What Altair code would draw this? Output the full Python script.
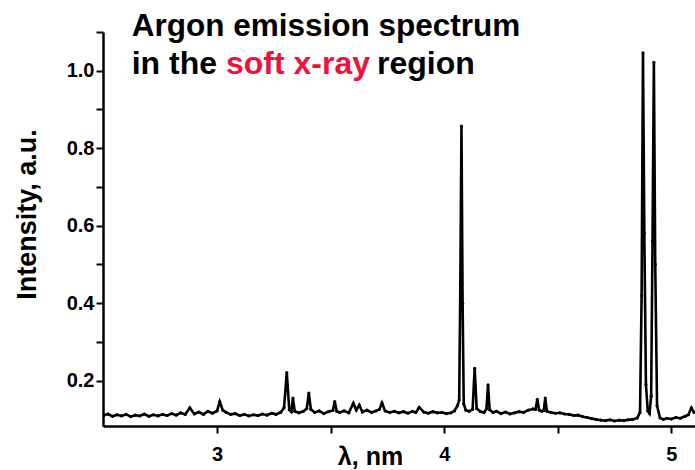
import altair as alt
import pandas as pd

# ---- data ----
wavelength_nm = [
    2.50, 2.52, 2.54, 2.56, 2.58, 2.60, 2.62, 2.64, 2.66, 2.68,
    2.70, 2.72, 2.74, 2.76, 2.78, 2.80, 2.82, 2.84, 2.86, 2.88,
    2.90, 2.92, 2.94, 2.96, 2.98, 3.00, 3.012, 3.025, 3.04, 3.06,
    3.08, 3.10, 3.12, 3.14, 3.16, 3.18, 3.20, 3.22, 3.24, 3.26,
    3.28, 3.295, 3.307, 3.318, 3.327, 3.334, 3.342, 3.36, 3.38, 3.395,
    3.404, 3.413, 3.43, 3.45, 3.47, 3.49, 3.51, 3.518, 3.527, 3.54,
    3.56, 3.58, 3.60, 3.613, 3.626, 3.64, 3.66, 3.68, 3.70, 3.715,
    3.726, 3.74, 3.76, 3.78, 3.80, 3.82, 3.84, 3.86, 3.875, 3.89,
    3.91, 3.93, 3.95, 3.97, 3.99, 4.01, 4.03, 4.045, 4.058, 4.066,
    4.071, 4.076, 4.081, 4.086, 4.095, 4.11, 4.125, 4.134, 4.143, 4.16,
    4.175, 4.186, 4.193, 4.200, 4.215, 4.23, 4.25, 4.27, 4.29, 4.31,
    4.33, 4.35, 4.37, 4.39, 4.402, 4.410, 4.418, 4.43, 4.438, 4.445,
    4.452, 4.47, 4.49, 4.51, 4.53, 4.55, 4.57, 4.59, 4.61, 4.63,
    4.65, 4.67, 4.69, 4.71, 4.73, 4.75, 4.77, 4.79, 4.81, 4.83,
    4.85, 4.862, 4.869, 4.875, 4.881, 4.888, 4.896, 4.904, 4.911, 4.917,
    4.923, 4.929, 4.937, 4.95, 4.965, 4.98, 5.00, 5.02, 5.04, 5.06,
    5.075, 5.088, 5.10,
]

intensity_au = [
    0.110, 0.114, 0.108, 0.112, 0.109, 0.113, 0.107, 0.111, 0.109, 0.114,
    0.108, 0.112, 0.109, 0.113, 0.110, 0.115, 0.111, 0.117, 0.113, 0.130,
    0.114, 0.119, 0.113, 0.121, 0.116, 0.122, 0.146, 0.124, 0.118, 0.113,
    0.115, 0.110, 0.113, 0.109, 0.112, 0.110, 0.114, 0.111, 0.116, 0.113,
    0.118, 0.130, 0.221, 0.125, 0.120, 0.155, 0.121, 0.117, 0.121, 0.128,
    0.168, 0.126, 0.118, 0.122, 0.115, 0.120, 0.123, 0.146, 0.121, 0.118,
    0.122, 0.117, 0.142, 0.124, 0.137, 0.119, 0.124, 0.118, 0.122, 0.126,
    0.143, 0.122, 0.118, 0.121, 0.117, 0.120, 0.116, 0.121, 0.118, 0.131,
    0.119, 0.116, 0.120, 0.117, 0.118, 0.115, 0.117, 0.122, 0.135, 0.150,
    0.450, 0.857, 0.400, 0.140, 0.124, 0.121, 0.126, 0.232, 0.128, 0.120,
    0.118, 0.127, 0.189, 0.125, 0.118, 0.121, 0.115, 0.119, 0.114, 0.117,
    0.120, 0.118, 0.124, 0.127, 0.126, 0.152, 0.124, 0.121, 0.123, 0.155,
    0.121, 0.118, 0.116, 0.117, 0.114, 0.113, 0.110, 0.111, 0.107, 0.105,
    0.102, 0.100, 0.098, 0.097, 0.099, 0.096, 0.098, 0.097, 0.099, 0.100,
    0.104, 0.118, 0.420, 1.046, 0.580, 0.190, 0.122, 0.115, 0.160, 0.560,
    1.022, 0.500, 0.135, 0.104, 0.100, 0.103, 0.101, 0.105, 0.103, 0.108,
    0.112, 0.130, 0.118,
]

x_ticks = [3, 3.5, 4, 4.5, 5]
y_ticks = [0.2, 0.3, 0.4, 0.5, 0.6, 0.7, 0.8, 0.9, 1.0, 1.1]

title_line1 = "Argon emission spectrum"
title_line2_a = "in the "
title_line2_b = "soft x-ray"
title_line2_c = "region"

x_title = "λ, nm"
y_title = "Intensity, a.u."

df = pd.DataFrame({"wl": wavelength_nm, "I": intensity_au})

FONT = "Liberation Sans"

line = alt.Chart(df).mark_line(
    color="black",
    strokeWidth=2.6,
    clip=True,
    point=alt.OverlayMarkDef(filled=True, size=10, color="black", clip=True),
).encode(
    x=alt.X(
        "wl:Q",
        scale=alt.Scale(domain=[2.498, 5.104], nice=False, zero=False),
        axis=alt.Axis(
            values=x_ticks,
            labelExpr="datum.value % 1 == 0 ? format(datum.value, 'd') : ''",
            title=x_title,
            titleX=267,
            titleY=38,
            titleAlign="center",
            titleBaseline="alphabetic",
            titleFontSize=25,
            labelPadding=11,
        ),
    ),
    y=alt.Y(
        "I:Q",
        scale=alt.Scale(domain=[0.083, 1.1], nice=False, zero=False),
        axis=alt.Axis(
            values=y_ticks,
            labelExpr="round(datum.value * 10) % 2 == 0 ? format(datum.value, '.1f') : ''",
            title=y_title,
            titleX=-76,
            titleY=182,
            titleAlign="center",
            titleBaseline="middle",
            labelPadding=2,
        ),
    ),
)

one = pd.DataFrame({"k": [0]})


def text_layer(txt, color, x, y, size):
    return alt.Chart(one).mark_text(
        text=txt,
        align="left",
        baseline="alphabetic",
        font=FONT,
        fontWeight="bold",
        fontSize=size,
        color=color,
    ).encode(x=alt.value(x), y=alt.value(y))


t1 = text_layer(title_line1, "black", 28.7, 3.5, 31.5)
t2 = text_layer(title_line2_a, "black", 28.7, 42.3, 32)
t3 = text_layer(title_line2_b, "#F0103A", 123, 42.3, 32)
t4 = text_layer(title_line2_c, "black", 274, 42.3, 32)

chart = alt.layer(line, t1, t2, t3, t4).properties(
    width=592,
    height=394,
    autosize=alt.AutoSizeParams(type="none"),
    padding={"left": 103, "top": 32, "right": 0, "bottom": 44},
    background="white",
).configure_view(stroke=None).configure_axis(
    grid=False,
    domainColor="black",
    domainWidth=2.5,
    tickColor="black",
    tickWidth=2,
    tickSize=7,
    labelFont=FONT,
    labelFontWeight="bold",
    labelFontSize=20,
    labelColor="black",
    titleFont=FONT,
    titleFontWeight="bold",
    titleFontSize=27,
    titleColor="black",
)

chart.save("out.html", embed_options={"renderer": "svg", "actions": False})
